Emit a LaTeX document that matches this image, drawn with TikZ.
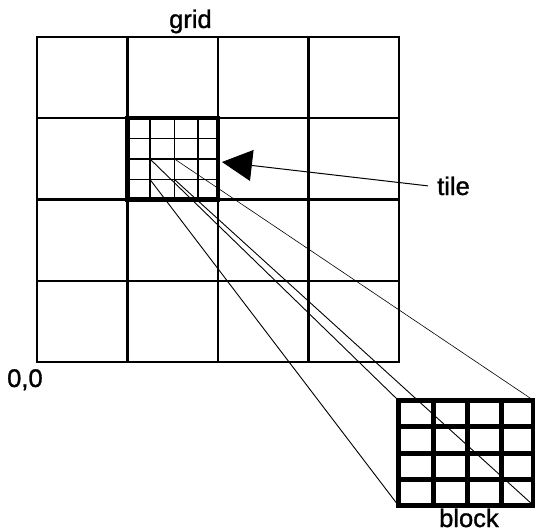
\documentclass[tikz,border=0pt]{standalone}
\usepackage{fontspec}
\setmainfont{Liberation Sans}
\newfontfamily\labfont{Liberation Sans}[FakeBold=1.2]
\usetikzlibrary{arrows.meta}
\tikzset{
  gridline/.style={line width=2.8pt},
  tileborder/.style={line width=4.5pt},
  tileinner/.style={line width=1.4pt},
  blockline/.style={line width=5pt},
  connector/.style={line width=0.9pt},
  thinconnector/.style={line width=0.6pt},
  pointer/.style={line width=1pt, -{Triangle[length=30pt,width=31pt]}},
  lab/.style={font=\labfont\fontsize{25.5}{30}\selectfont, inner sep=0pt, anchor=base west},
  box/.style={rectangle, inner sep=0pt, outer sep=0pt},
}
\begin{document}
\begin{tikzpicture}[x=1pt,y=-1pt]
\useasboundingbox (0,0) rectangle (535,532);
% grid
\foreach \x in {127.5,218,308.5} \draw[gridline] (\x,37) -- (\x,362);
\foreach \y in {118,199.5,281} \draw[gridline] (37,\y) -- (399,\y);
\node[box, draw, gridline, minimum width=362pt, minimum height=325pt] (grid) at (218,199.5) {};
% tile
\foreach \x in {150,174.5,198} \draw[tileinner] (\x,118) -- (\x,199.5);
\foreach \y in {138.5,159,179.5} \draw[tileinner] (127.5,\y) -- (218,\y);
\node[box, draw, tileborder, minimum width=90.5pt, minimum height=81.5pt] (tile) at (172.75,158.75) {};
\node[box, minimum width=24.5pt, minimum height=20.5pt] (sub) at (162.25,169.25) {};
% block
\node[box, draw, blockline, minimum width=135pt, minimum height=105pt] (block) at (465.5,452.5) {};
\foreach \x in {433,467,501} \draw[blockline] (\x,400) -- (\x,505);
\foreach \y in {426,453,479} \draw[blockline] (398,\y) -- (533,\y);
% connectors
\draw[connector] (sub.north west) -- (block.north west);
\draw[thinconnector] (sub.north east) -- (block.north east);
\draw[connector] (sub.south west) -- (block.south west);
\draw[connector] (sub.south east) -- (block.south east);
% labels
\node[lab] (gridlab) at (169,28) {grid};
\node[lab] (origin) at (7,387) {0,0};
\node[lab] (tilelab) at (437,195) {tile};
\node[lab] (blocklab) at (439,527) {block};
% pointer
\coordinate (tiptarget) at (222,162);
\draw[pointer] ([xshift=-9pt]tilelab.west) -- (tiptarget);
\end{tikzpicture}
\end{document}
